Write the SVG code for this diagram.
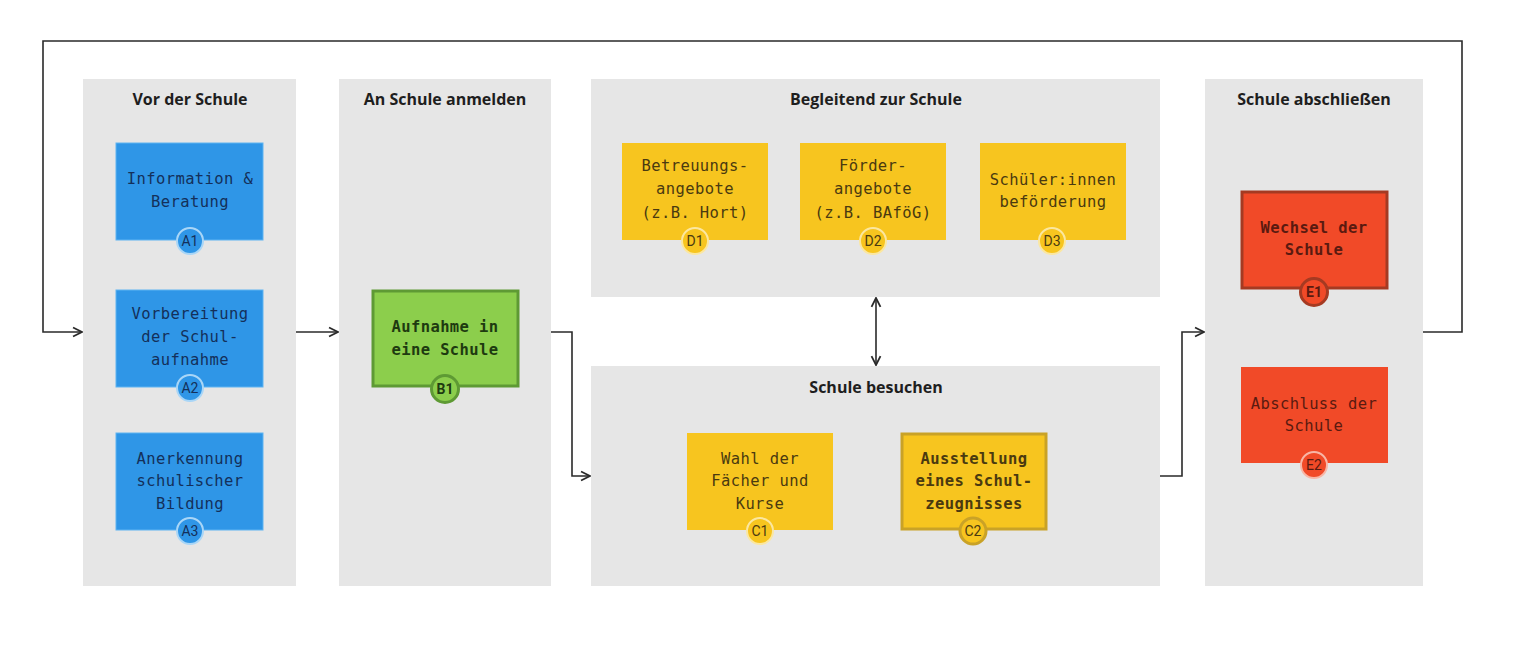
<svg xmlns="http://www.w3.org/2000/svg" width="1513" height="667" viewBox="0 0 1513 667">
<style>
.panel{fill:#e6e6e6}
.title{font-family:"Open Sans","Noto Sans",sans-serif;font-weight:700;font-size:16px;fill:#1e1e1e;text-anchor:middle}
.txt{font-family:"DejaVu Sans Mono","Liberation Mono",monospace;font-size:15.5px;letter-spacing:0.4px;text-anchor:middle}
.b{font-weight:bold}
.badge{font-family:"Roboto","Noto Sans",sans-serif;font-size:14px;text-anchor:middle}
.blue{fill:#2f96e7}
.yel{fill:#f7c51f}
.red{fill:#f14a28}
.grn{fill:#8cce4c}
.tblue{fill:#14305a}
.tyel{fill:#4a3a10}
.tred{fill:#5a1a10}
.tgrn{fill:#1e3a10}
.conn{fill:none;stroke:#2a2a2a;stroke-width:1.6}
</style>
<defs>
<marker id="ah" viewBox="0 0 10 10" refX="9" refY="5" markerWidth="7" markerHeight="7" orient="auto-start-reverse">
<path d="M1,1 L9,5 L1,9" fill="none" stroke="#2a2a2a" stroke-width="1.6"/>
</marker>
</defs>
<rect width="1513" height="667" fill="#ffffff"/>

<g id="panel-A">
<rect class="panel" x="83" y="79" width="213" height="507"/>
<text class="title" x="190" y="105">Vor der Schule</text>
</g>
<g id="panel-B">
<rect class="panel" x="339" y="79" width="212" height="507"/>
<text class="title" x="445" y="105">An Schule anmelden</text>
</g>
<g id="panel-D">
<rect class="panel" x="591" y="79" width="569" height="218"/>
<text class="title" x="876" y="105">Begleitend zur Schule</text>
</g>
<g id="panel-C">
<rect class="panel" x="591" y="366" width="569" height="220"/>
<text class="title" x="876" y="393">Schule besuchen</text>
</g>
<g id="panel-E">
<rect class="panel" x="1205" y="79" width="218" height="507"/>
<text class="title" x="1314" y="105">Schule abschließen</text>
</g>

<g id="connectors">
<polyline class="conn" points="1423,332 1462,332 1462,41 43,41 43,332 82,332" marker-end="url(#ah)"/>
<line class="conn" x1="296" y1="332" x2="338" y2="332" marker-end="url(#ah)"/>
<polyline class="conn" points="551,332 572,332 572,476 590,476" marker-end="url(#ah)"/>
<line class="conn" x1="876" y1="298" x2="876" y2="365" marker-start="url(#ah)" marker-end="url(#ah)"/>
<polyline class="conn" points="1160,476 1182,476 1182,332 1204,332" marker-end="url(#ah)"/>
</g>

<g id="A1">
<rect class="blue" x="116" y="143" width="147" height="97" stroke="#5fb4f2" stroke-width="1"/>
<text class="txt tblue" x="190" y="184">Information &amp;</text>
<text class="txt tblue" x="190" y="207">Beratung</text>
<circle class="blue" cx="190" cy="241" r="13" stroke="#a9d6f7" stroke-width="2"/>
<text class="badge tblue" x="190" y="246">A1</text>
</g>
<g id="A2">
<rect class="blue" x="116" y="290" width="147" height="97" stroke="#5fb4f2" stroke-width="1"/>
<text class="txt tblue" x="190" y="319">Vorbereitung</text>
<text class="txt tblue" x="190" y="342">der Schul-</text>
<text class="txt tblue" x="190" y="365">aufnahme</text>
<circle class="blue" cx="190" cy="388" r="13" stroke="#a9d6f7" stroke-width="2"/>
<text class="badge tblue" x="190" y="393">A2</text>
</g>
<g id="A3">
<rect class="blue" x="116" y="433" width="147" height="97" stroke="#5fb4f2" stroke-width="1"/>
<text class="txt tblue" x="190" y="464">Anerkennung</text>
<text class="txt tblue" x="190" y="486">schulischer</text>
<text class="txt tblue" x="190" y="509">Bildung</text>
<circle class="blue" cx="190" cy="531" r="13" stroke="#a9d6f7" stroke-width="2"/>
<text class="badge tblue" x="190" y="536">A3</text>
</g>

<g id="B1">
<rect class="grn" x="373" y="291" width="145" height="95" stroke="#5e9a34" stroke-width="3"/>
<text class="txt tgrn b" x="445" y="332">Aufnahme in</text>
<text class="txt tgrn b" x="445" y="355">eine Schule</text>
<circle class="grn" cx="445" cy="389" r="13.5" stroke="#5e9a34" stroke-width="3"/>
<text class="badge tgrn b" x="445" y="394">B1</text>
</g>

<g id="D1">
<rect class="yel" x="622" y="143" width="146" height="97"/>
<text class="txt tyel" x="695" y="171">Betreuungs-</text>
<text class="txt tyel" x="695" y="194">angebote</text>
<text class="txt tyel" x="695" y="218">(z.B. Hort)</text>
<circle class="yel" cx="695" cy="241" r="13" stroke="#fbe7a0" stroke-width="2"/>
<text class="badge tyel" x="695" y="246">D1</text>
</g>
<g id="D2">
<rect class="yel" x="800" y="143" width="146" height="97"/>
<text class="txt tyel" x="873" y="171">Förder-</text>
<text class="txt tyel" x="873" y="194">angebote</text>
<text class="txt tyel" x="873" y="218">(z.B. BAföG)</text>
<circle class="yel" cx="873" cy="241" r="13" stroke="#fbe7a0" stroke-width="2"/>
<text class="badge tyel" x="873" y="246">D2</text>
</g>
<g id="D3">
<rect class="yel" x="980" y="143" width="146" height="97"/>
<text class="txt tyel" x="1053" y="185">Schüler:innen</text>
<text class="txt tyel" x="1053" y="207">beförderung</text>
<circle class="yel" cx="1052" cy="241" r="13" stroke="#fbe7a0" stroke-width="2"/>
<text class="badge tyel" x="1052" y="246">D3</text>
</g>

<g id="C1">
<rect class="yel" x="687" y="433" width="146" height="97"/>
<text class="txt tyel" x="760" y="464">Wahl der</text>
<text class="txt tyel" x="760" y="486">Fächer und</text>
<text class="txt tyel" x="760" y="509">Kurse</text>
<circle class="yel" cx="760" cy="531" r="13" stroke="#fbe7a0" stroke-width="2"/>
<text class="badge tyel" x="760" y="536">C1</text>
</g>
<g id="C2">
<rect class="yel" x="902" y="434" width="144" height="95" stroke="#c9a227" stroke-width="3"/>
<text class="txt tyel b" x="974" y="464">Ausstellung</text>
<text class="txt tyel b" x="974" y="486">eines Schul-</text>
<text class="txt tyel b" x="974" y="509">zeugnisses</text>
<circle class="yel" cx="973" cy="531" r="13" stroke="#c9a227" stroke-width="3"/>
<text class="badge tyel" x="973" y="536">C2</text>
</g>

<g id="E1">
<rect class="red" x="1242" y="192" width="145" height="96" stroke="#a53a22" stroke-width="3"/>
<text class="txt tred b" x="1314" y="233">Wechsel der</text>
<text class="txt tred b" x="1314" y="255">Schule</text>
<circle class="red" cx="1314" cy="292" r="13.5" stroke="#a53a22" stroke-width="3"/>
<text class="badge tred b" x="1314" y="297">E1</text>
</g>
<g id="E2">
<rect class="red" x="1241" y="367" width="147" height="96"/>
<text class="txt tred" x="1314" y="409">Abschluss der</text>
<text class="txt tred" x="1314" y="431">Schule</text>
<circle class="red" cx="1314" cy="465" r="13" stroke="#f8b6a6" stroke-width="2"/>
<text class="badge tred" x="1314" y="470">E2</text>
</g>
</svg>
